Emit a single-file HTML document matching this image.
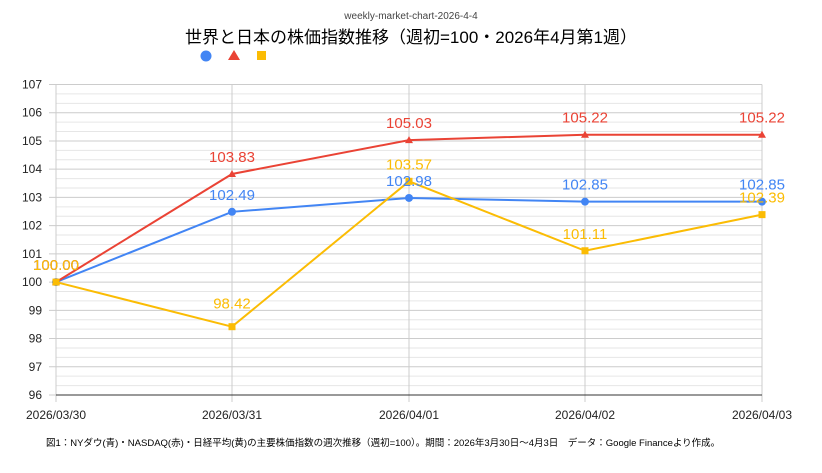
<!DOCTYPE html>
<html><head><meta charset="utf-8"><style>
body{margin:0;background:#fff;}
svg text{font-family:"Liberation Sans","Noto Sans CJK JP",sans-serif;}
</style></head><body>
<svg width="822" height="468" viewBox="0 0 822 468" xmlns="http://www.w3.org/2000/svg">
<rect width="822" height="468" fill="#fff"/>
<text x="411" y="19" font-size="10" fill="#444" text-anchor="middle">weekly-market-chart-2026-4-4</text>
<text x="411" y="43" font-size="17" fill="#000" text-anchor="middle">世界と日本の株価指数推移（週初=100・2026年4月第1週）</text>
<circle cx="206" cy="56" r="5.5" fill="#4285f4"/>
<polygon points="234,50 240,60 228,60" fill="#ea4335"/>
<rect x="257" y="51" width="9" height="9" fill="#fbbc04"/>
<g id="grid"></g>
<g font-size="12" fill="#222" text-anchor="end" id="yl"></g>
<g font-size="12" fill="#222" text-anchor="middle">
<text x="56" y="419">2026/03/30</text><text x="232" y="419">2026/03/31</text><text x="409" y="419">2026/04/01</text><text x="585" y="419">2026/04/02</text><text x="762" y="419">2026/04/03</text></g>
<g id="series"></g>
<g id="labels"></g>
<text x="46" y="446" font-size="9.5" fill="#000">図1：NYダウ(青)・NASDAQ(赤)・日経平均(黄)の主要株価指数の週次推移（週初=100）。期間：2026年3月30日〜4月3日　データ：Google Financeより作成。</text>
<script>
var ns="http://www.w3.org/2000/svg";
function el(p,t,a,tx){var e=document.createElementNS(ns,t);for(var k in a)e.setAttribute(k,a[k]);if(tx!=null)e.textContent=tx;document.getElementById(p).appendChild(e);return e;}
function Y(v){return 84.5+(107-v)*(310.5/11);}
var X=[56,232,409,585,762];
for(var i=0;i<=33;i++){var y=84.5+i*310.5/33;var maj=i%3==0;
el("grid","line",{x1:maj?49:56,x2:762,y1:y,y2:y,stroke:maj?"#ccc":"#e6e6e6","stroke-width":1});}
for(var v=96;v<=107;v++)el("yl","text",{x:42,y:Y(v)+4},v);
X.forEach(function(x){el("grid","line",{x1:x,x2:x,y1:84.5,y2:402,stroke:"#ccc"});});
el("grid","line",{x1:56,x2:762,y1:395,y2:395,stroke:"#333"});
var S=[
{c:"#4285f4",d:[100,102.49,102.98,102.85,102.85],m:"c"},
{c:"#ea4335",d:[100,103.83,105.03,105.22,105.22],m:"t"},
{c:"#fbbc04",d:[100,98.42,103.57,101.11,102.39],m:"s"}];
S.forEach(function(s){
el("series","polyline",{points:s.d.map(function(v,i){return X[i]+","+Y(v)}).join(" "),fill:"none",stroke:s.c,"stroke-width":2});
s.d.forEach(function(v,i){var x=X[i],y=Y(v);
if(s.m=="c")el("series","circle",{cx:x,cy:y,r:4,fill:s.c});
else if(s.m=="t")el("series","polygon",{points:(x)+","+(y-4)+" "+(x+4)+","+(y+3)+" "+(x-4)+","+(y+3),fill:s.c});
else el("series","rect",{x:x-3.5,y:y-3.5,width:7,height:7,fill:s.c});
var ly=y-12; if(s.m=="s"&&i==1)ly=y-18;
el("labels","text",{x:x,y:ly,"font-size":15,fill:s.c,"text-anchor":"middle"},v.toFixed(2));
});});
</script>
</svg>
</body></html>
